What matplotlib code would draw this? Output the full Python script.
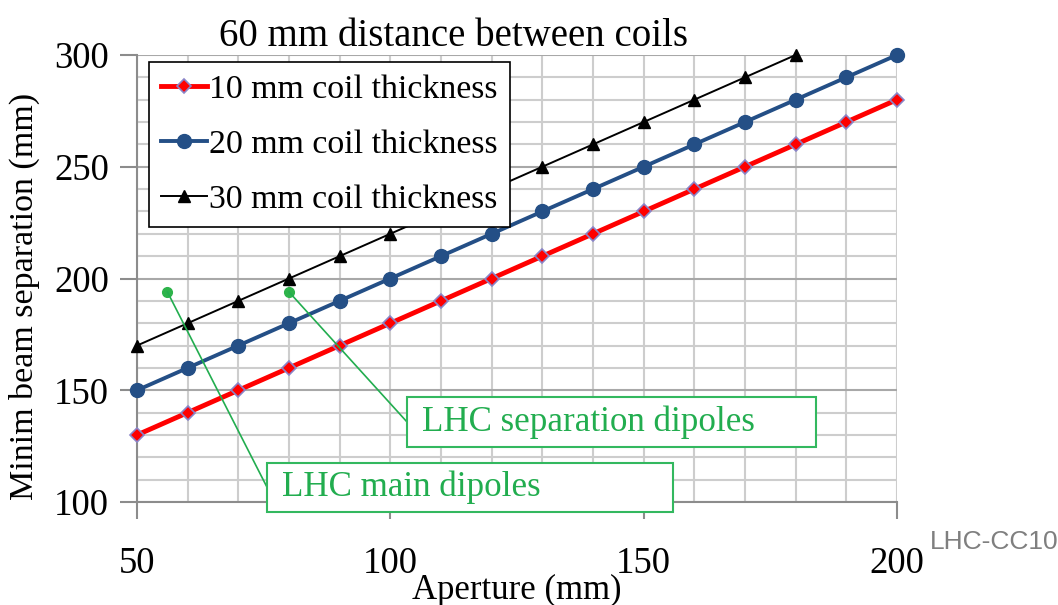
import matplotlib
matplotlib.use('Agg')
from matplotlib import pyplot as plt
from matplotlib.patches import Rectangle

plt.rcParams['font.family'] = ['Liberation Serif', 'DejaVu Serif']

# aperture (mm)
aperture = [50, 60, 70, 80, 90, 100, 110, 120, 130, 140, 150, 160, 170, 180, 190, 200]
aperture_30 = [50, 60, 70, 80, 90, 100, 110, 120, 130, 140, 150, 160, 170, 180]
# minimum beam separation (mm)
sep_10 = [130, 140, 150, 160, 170, 180, 190, 200, 210, 220, 230, 240, 250, 260, 270, 280]
sep_20 = [150, 160, 170, 180, 190, 200, 210, 220, 230, 240, 250, 260, 270, 280, 290, 300]
sep_30 = [170, 180, 190, 200, 210, 220, 230, 240, 250, 260, 270, 280, 290, 300]
labels = ['10 mm coil thickness', '20 mm coil thickness', '30 mm coil thickness']

# LHC magnets (aperture, separation)
lhc_names = ['LHC main dipoles', 'LHC separation dipoles']
lhc_aperture = [56, 80]
lhc_sep = [194, 194]

green = '#22AD4F'

fig = plt.figure(figsize=(10.58, 6.05), dpi=100)
ax = fig.add_axes([0.1295, 0.1702, 0.7183, 0.7389])

ax.plot(aperture, sep_10, color='#FF0000', lw=3.5, marker='D', ms=7.5,
        mfc='#FF0000', mec='#8A84C8', mew=1.2, label=labels[0], clip_on=False, zorder=5)
ax.plot(aperture, sep_20, color='#244F86', lw=2.8, marker='o', ms=10,
        mfc='#244F86', mec='#244F86', label=labels[1], clip_on=False, zorder=5)
ax.plot(aperture_30, sep_30, color='black', lw=1.4, marker='^', ms=9,
        label=labels[2], clip_on=False, zorder=5)

ax.set_xlim(50, 200)
ax.set_ylim(100, 300)
ax.set_xticks([50, 100, 150, 200])
ax.set_yticks([100, 150, 200, 250, 300])
ax.set_xticks(range(50, 201, 10), minor=True)
ax.set_yticks(range(100, 301, 10), minor=True)
ax.grid(which='minor', color='#CDCDCD', lw=1.5)
ax.grid(which='major', axis='y', color='#A8A8A8', lw=1.5)
ax.grid(which='major', axis='x', color='#CDCDCD', lw=1.5)
ax.set_axisbelow(True)
for s in ['top', 'right']:
    ax.spines[s].set_visible(False)
for s in ['left', 'bottom']:
    ax.spines[s].set_color('#8C8C8C')
    ax.spines[s].set_linewidth(1.5)
ax.tick_params(which='minor', length=0)
ax.tick_params(axis='y', which='major', length=12, width=1.5, color='#8C8C8C',
               labelsize=26.5, pad=8)
ax.tick_params(axis='x', which='major', length=12, width=1.5, color='#8C8C8C',
               labelsize=26.5, pad=20)

ax.set_xlabel('Aperture (mm)', fontsize=25, labelpad=-5)
ax.set_ylabel('Minim beam separation (mm)', fontsize=24.5)
ax.yaxis.set_label_coords(-0.128, 0.46)
ax.set_title('60 mm distance between coils', fontsize=28, x=0.416, pad=6)

leg = ax.legend(loc='upper left', bbox_to_anchor=(0.016, 0.985), fontsize=24.4,
                frameon=True, fancybox=False, framealpha=1, edgecolor='black',
                handlelength=1.35, handletextpad=0.05, borderpad=0.36,
                borderaxespad=0, labelspacing=0.72)
leg.get_frame().set_linewidth(1.2)
leg.set_zorder(10)

# LHC points with callout boxes
ax.plot(lhc_aperture, lhc_sep, 'o', color='#2DB34A', ms=7, zorder=6, linestyle='none')
boxes = [(75.7, 95.5, 80.1, 21.9), (103.3, 124.6, 80.7, 22.4)]
for name, x0, y0, (bx, by, bw, bh) in zip(lhc_names, lhc_aperture, lhc_sep, boxes):
    ax.annotate('', xy=(x0, y0), xytext=(bx, by + bh / 2),
                arrowprops=dict(arrowstyle='-', color=green, lw=1.2,
                                shrinkA=0, shrinkB=0),
                annotation_clip=False, zorder=7)
    ax.add_patch(Rectangle((bx, by), bw, bh, fc='white', ec='#33B85F', lw=1.5,
                           clip_on=False, zorder=8))
    ax.text(bx + 3, by + bh / 2, name, color=green, fontsize=25.2,
            ha='left', va='center', zorder=9)

fig.text(0.879, 0.093, 'LHC-CC10', color='#7F7F7F', fontsize=19,
         family=['Liberation Sans', 'DejaVu Sans'])

plt.savefig('out.png', dpi=100)
plt.close('all')
